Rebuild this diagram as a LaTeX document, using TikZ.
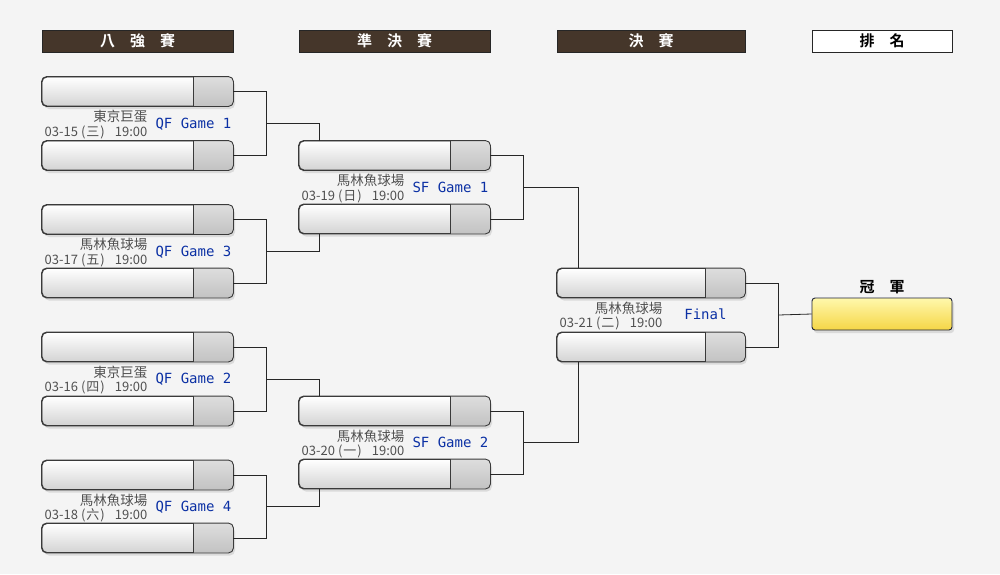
\documentclass[tikz,border=0pt]{standalone}
\usepackage{fontspec}
\newfontfamily\cjk{Noto Sans CJK TC}
\newfontfamily\cjkbf{Noto Sans CJK TC Bold}
\newfontfamily\gamefont{DejaVu Sans Mono}
\usetikzlibrary{shadows}
\usetikzlibrary{calc}
\definecolor{bgGray}{HTML}{F4F4F4}
\definecolor{hdrBrown}{HTML}{45362A}
\definecolor{lineGray}{HTML}{3A3A3A}
\definecolor{cellTop}{HTML}{DEDEDE}
\definecolor{cellBot}{HTML}{C2C2C2}
\definecolor{gameBlue}{HTML}{0B30A4}
\definecolor{infoGray}{HTML}{505050}
\definecolor{champTop}{HTML}{FFF8AC}
\definecolor{champBot}{HTML}{F5D646}
\definecolor{champLine}{HTML}{1E2238}
\tikzset{
  teambox/.style={draw=lineGray, line width=0.9pt, rounded corners=5pt,
    minimum height=29pt, inner sep=0pt, top color=white, bottom color=black!17,
    drop shadow={shadow xshift=2pt, shadow yshift=-3pt, opacity=0.22}},
  hdrbox/.style={draw=black!85, fill=hdrBrown, minimum height=22pt, inner sep=0pt,
    text=white, font=\cjkbf\fontsize{15pt}{15pt}\selectfont},
  rankbox/.style={hdrbox, fill=white, text=black},
  venue/.style={anchor=base east, inner sep=0pt, text=infoGray,
    font=\cjk\fontsize{13.5pt}{13.5pt}\selectfont},
  datetime/.style={venue, font=\cjk\fontsize{13pt}{13pt}\selectfont},
  gamelabel/.style={anchor=base, inner sep=0pt, text=gameBlue,
    font=\gamefont\fontsize{14pt}{14pt}\selectfont},
  joinline/.style={draw=black!85, line width=0.8pt}
}
\begin{document}
\begin{tikzpicture}[x=1pt,y=-1pt]
  \fill[bgGray] (0,0) rectangle (1000,574);
  \useasboundingbox (0,0) rectangle (1000,574);
  % headers
  \node[hdrbox, minimum width=191pt] (h1) at (137.5,41) {八　強　賽};
  \node[hdrbox, minimum width=191pt] (h2) at (394.5,41) {準　決　賽};
  \node[hdrbox, minimum width=188pt] (h3) at (651,41) {決　賽};
  \node[rankbox, minimum width=140pt] (h4) at (882,41) {排　名};
  % team boxes
  \foreach \n/\x/\y/\w in {q1a/42/91.5/191, q1b/42/155.5/191, q3a/42/219.5/191, q3b/42/283/191,
      q2a/42/347/191, q2b/42/411/191, q4a/42/475/191, q4b/42/538/191,
      s1a/299/155.5/191, s1b/299/219/191, s2a/299/411/191, s2b/299/474/191,
      fa/557/283/188, fb/557/347/188} {
    \node[teambox, minimum width=\w pt] (\n) at ({\x+\w/2},\y) {};
    \begin{scope}
      \clip[rounded corners=5pt] (\n.north west) rectangle (\n.south east);
      \shade[top color=cellTop, bottom color=cellBot] ([xshift=-40pt]\n.north east) rectangle (\n.south east);
    \end{scope}
    \draw[lineGray, line width=0.9pt, rounded corners=5pt] (\n.north west) rectangle (\n.south east);
    \draw[lineGray, line width=0.9pt] ([xshift=-40pt]\n.north east) -- ([xshift=-40pt]\n.south east);
  }
  % match labels
  \foreach \m/\venue/\mday/\wkday/\game in {q1a/東京巨蛋/03-15/三/QF Game 1,
      q3a/馬林魚球場/03-17/五/QF Game 3, q2a/東京巨蛋/03-16/四/QF Game 2,
      q4a/馬林魚球場/03-18/六/QF Game 4, s1a/馬林魚球場/03-19/日/SF Game 1,
      s2a/馬林魚球場/03-20/一/SF Game 2, fa/馬林魚球場/03-21/二/Final} {
    \node[venue] (\m v) at ([xshift=106pt,yshift=-15.5pt]\m.south west) {\venue};
    \node[datetime] (\m d) at ([xshift=106pt,yshift=-30pt]\m.south west)
      {\mday\kern3pt(\kern1pt\wkday\kern1pt)\kern10pt 19:00};
    \node[gamelabel] (\m g) at ([xshift=-40pt,yshift=-22pt]\m.south east) {\game};
  }
  % champion
  \node[draw=champLine, line width=0.9pt, rounded corners=3pt, minimum width=140pt,
    minimum height=32pt, top color=champTop, bottom color=champBot,
    drop shadow={shadow xshift=2pt, shadow yshift=-3pt, opacity=0.22}] (champ) at (882,314) {};
  \node[inner sep=0pt, font=\cjkbf\fontsize{15pt}{15pt}\selectfont] (champt) at (882,287) {冠　軍};
  % connectors
  \foreach \a/\b/\k in {q1a/q1b/k1, q3a/q3b/k3, q2a/q2b/k2, q4a/q4b/k4, s1a/s1b/k5, s2a/s2b/k6, fa/fb/kf} {
    \coordinate (\k) at ([xshift=33pt]$(\a.east)!0.5!(\b.east)$);
    \draw[joinline] (\a.east) -| (\k) |- (\b.east);
  }
  \draw[joinline] (k1) -| ([xshift=21pt]s1a.north west);
  \draw[joinline] (k3) -| ([xshift=21pt]s1b.south west);
  \draw[joinline] (k2) -| ([xshift=21pt]s2a.north west);
  \draw[joinline] (k4) -| ([xshift=21pt]s2b.south west);
  \draw[joinline] (k5) -| ([xshift=22pt]fa.north west);
  \draw[joinline] (k6) -| ([xshift=22pt]fb.south west);
  \draw[joinline] (kf) -- (champ.west);
\end{tikzpicture}
\end{document}
